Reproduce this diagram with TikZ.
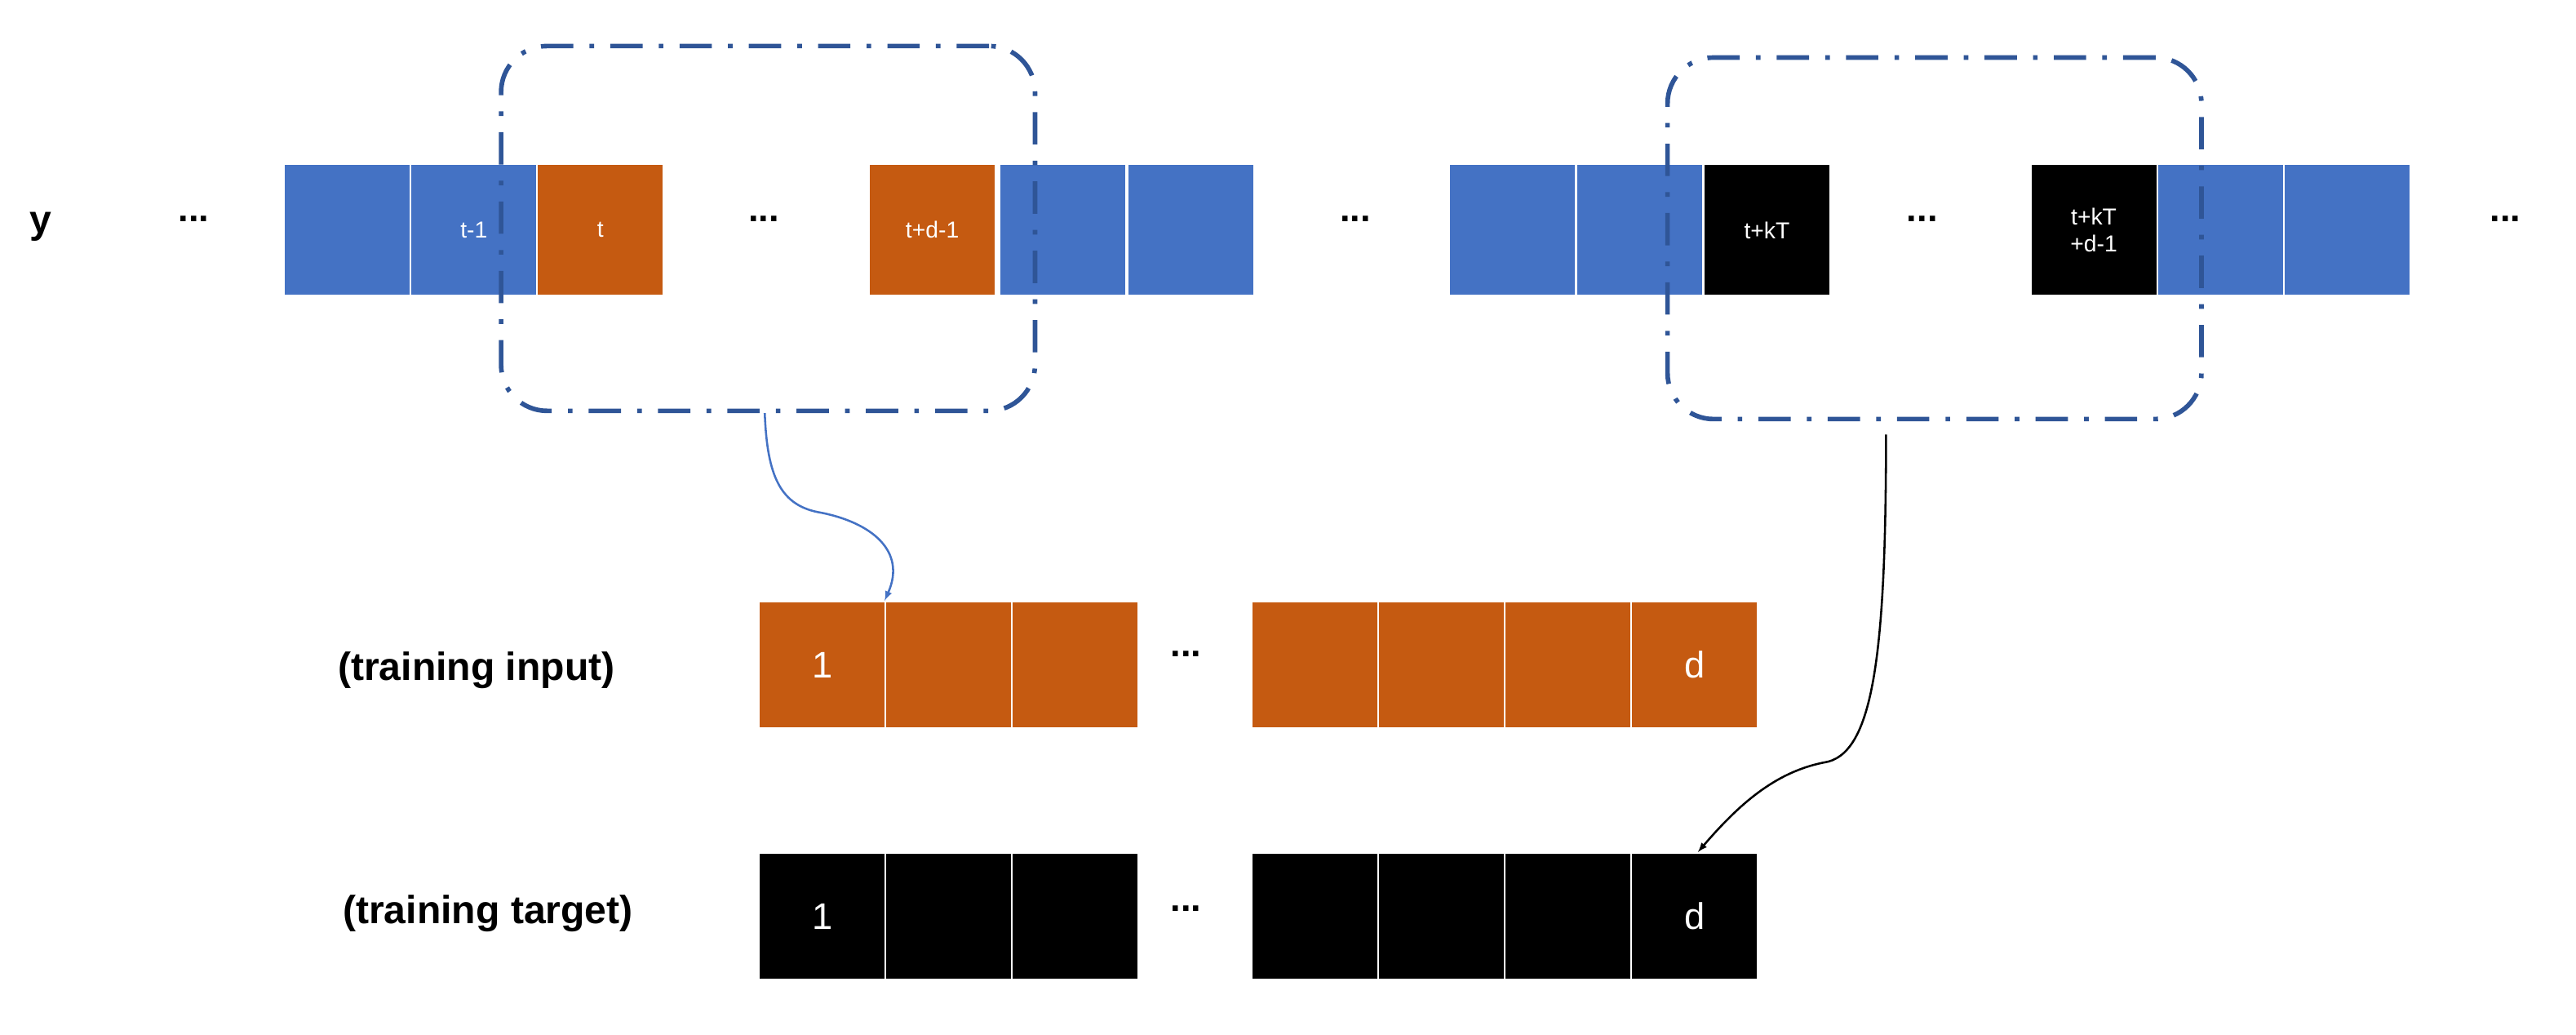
\documentclass[tikz,border=0pt]{standalone}
\usepackage{fontspec}
\setmainfont{Liberation Sans}
\usetikzlibrary{calc}
\definecolor{cb}{HTML}{4472C4}
\definecolor{co}{HTML}{C55A11}
\definecolor{cd}{HTML}{2F5597}
\begin{document}
\begin{tikzpicture}[x=0.05cm,y=-0.05cm,
 cell/.style={draw=white,line width=1.5pt,minimum width=3.85cm,minimum height=4cm,inner sep=0,text=white,font=\fontsize{20}{24}\selectfont},
 sq/.style={cell,minimum height=3.85cm,font=\fontsize{32}{36}\selectfont},
 B/.style={fill=cb},O/.style={fill=co},K/.style={fill=black},
 dots/.style={font=\bfseries\fontsize{32}{36}\selectfont},
 lab/.style={font=\bfseries\fontsize{34}{40}\selectfont},
 win/.style={draw=cd,line width=4pt,rounded corners=1.4cm,dash pattern=on 28pt off 14pt on 4pt off 14pt,minimum width=16.25cm,inner sep=0}]
\useasboundingbox (0,0) rectangle (1568,629.3);
\node[lab] (y) at (25,138) {y};
\node[dots] (d0) at (118,133) {...};
\node[cell,B] (a1) at (211.5,140) {};
\node[cell,B] (a2) at (288.5,140) {t-1};
\node[cell,O] (a3) at (365.5,140) {t};
\node[dots] (d1) at (465,133) {...};
\node[cell,O] (a4) at (567.5,140) {t+d-1};
\node[cell,B] (a5) at (647,140) {};
\node[cell,B] (a6) at (725,140) {};
\node[dots] (d2) at (825,133) {...};
\node[cell,B] (b1) at (920.5,140) {};
\node[cell,B] (b2) at (998,140) {};
\node[cell,K] (b3) at (1075.5,140) {t+kT};
\node[dots] (d3) at (1170,133) {...};
\node[cell,K,align=center] (b4) at (1274.5,140) {t+kT\\+d-1};
\node[cell,B] (b5) at (1351.5,140) {};
\node[cell,B] (b6) at (1428.5,140) {};
\node[dots] (d4) at (1525,133) {...};
\node[win,minimum height=11.1cm] (w1) at (467.5,139) {};
\node[win,minimum height=11cm] (w2) at (1177.5,145) {};
% training input
\node[lab] (li) at (290,408) {(training input)};
\node[sq,O] (i1) at (500.5,404.5) {1};
\node[sq,O] (i2) at (577.5,404.5) {};
\node[sq,O] (i3) at (654.5,404.5) {};
\node[dots] (di) at (722,398) {...};
\node[sq,O] (i4) at (800.5,404.5) {};
\node[sq,O] (i5) at (877.5,404.5) {};
\node[sq,O] (i6) at (954.5,404.5) {};
\node[sq,O] (i7) at (1031.5,404.5) {d};
% training target
\node[lab] (lt) at (297,556) {(training target)};
\node[sq,K] (t1) at (500.5,557.5) {1};
\node[sq,K] (t2) at (577.5,557.5) {};
\node[sq,K] (t3) at (654.5,557.5) {};
\node[dots] (dt) at (722,553) {...};
\node[sq,K] (t4) at (800.5,557.5) {};
\node[sq,K] (t5) at (877.5,557.5) {};
\node[sq,K] (t6) at (954.5,557.5) {};
\node[sq,K] (t7) at (1031.5,557.5) {d};
\coordinate (s2) at ($(w2.south)+(-29.5,8)$);
\draw[cb,line width=1.8pt,-latex] ($(w1.south)+(-2,0)$) .. controls (467,290) and (475,308) .. (500,312) .. controls (530,318) and (552,335) .. (i2.north west);
\draw[black,line width=1.8pt,-latex] (s2) .. controls (1148,400) and (1140,460) .. (1110,464) .. controls (1080,470) and (1058,490) .. ($(t7.north)+(2,0)$);
\end{tikzpicture}
\end{document}
